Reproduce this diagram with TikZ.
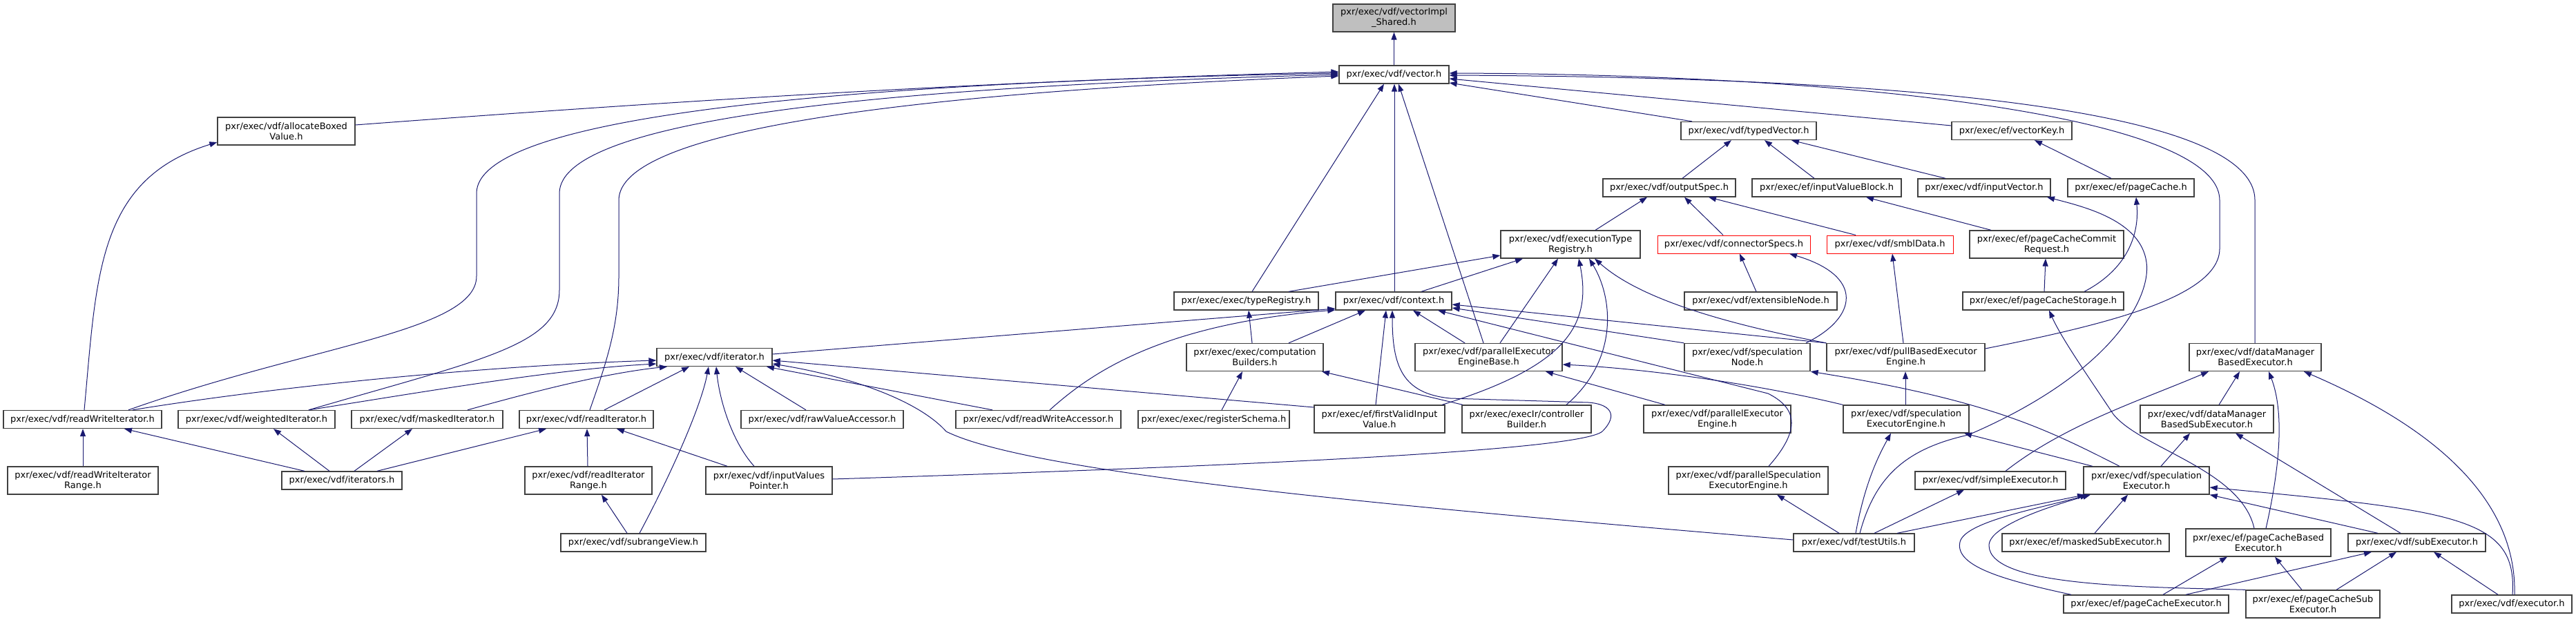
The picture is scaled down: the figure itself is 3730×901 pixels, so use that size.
\documentclass[tikz,border=0pt]{standalone}
\usepackage{fontspec}
\setmainfont{DejaVu Sans}
\usetikzlibrary{arrows.meta}
\definecolor{edgec}{HTML}{191970}
\definecolor{boxc}{HTML}{404040}
\begin{document}
\begin{tikzpicture}[x=1pt,y=-1pt,
  box/.style={draw=boxc,line width=1.3pt,fill=white,inner sep=0pt,align=center,font=\fontsize{13}{15}\selectfont},
  redbox/.style={box,draw=red,line width=1pt},
  rootbox/.style={box,fill=black!25},
  sz/.style 2 args={minimum width=#1pt,minimum height=#2pt},
  e/.style={draw=edgec,line width=1pt,-{Triangle[length=11pt,width=8pt]}}
]
\useasboundingbox (0,0) rectangle (3730,901);
% nodes
\node[rootbox,sz={177}{40}] (vis) at (2018.5,26) {pxr/exec/vdf/vectorImpl\\\_Shared.h};
\node[box,sz={159}{26}] (vec) at (2018.5,108) {pxr/exec/vdf/vector.h};
\node[box,sz={199}{40}] (abv) at (414.5,190) {pxr/exec/vdf/allocateBoxed\\Value.h};
\node[box,sz={196}{26}] (tv) at (2532,189.5) {pxr/exec/vdf/typedVector.h};
\node[box,sz={174}{26}] (vk) at (2913,189.5) {pxr/exec/ef/vectorKey.h};
\node[box,sz={192}{26}] (os) at (2417,272) {pxr/exec/vdf/outputSpec.h};
\node[box,sz={216}{26}] (ivb) at (2645,272) {pxr/exec/ef/inputValueBlock.h};
\node[box,sz={192}{26}] (iv) at (2873,272) {pxr/exec/vdf/inputVector.h};
\node[box,sz={183}{26}] (pc) at (3085.5,272) {pxr/exec/ef/pageCache.h};
\node[box,sz={202}{40}] (etr) at (2274,354) {pxr/exec/vdf/executionType\\Registry.h};
\node[redbox,sz={221}{26}] (cs) at (2510.5,354) {pxr/exec/vdf/connectorSpecs.h};
\node[redbox,sz={183}{26}] (sd) at (2736.5,354) {pxr/exec/vdf/smblData.h};
\node[box,sz={223}{40}] (pccr) at (2963.5,354) {pxr/exec/ef/pageCacheCommit\\Request.h};
\node[box,sz={209}{26}] (tr) at (1804.5,436) {pxr/exec/exec/typeRegistry.h};
\node[box,sz={168}{26}] (ctx) at (2018,436) {pxr/exec/vdf/context.h};
\node[box,sz={221}{26}] (en) at (2549.5,436) {pxr/exec/vdf/extensibleNode.h};
\node[box,sz={233}{26}] (pcs) at (2958.5,436) {pxr/exec/ef/pageCacheStorage.h};
\node[box,sz={167}{26}] (it) at (1034.5,517.5) {pxr/exec/vdf/iterator.h};
\node[box,sz={198}{40}] (cb) at (1817,517.5) {pxr/exec/exec/computation\\Builders.h};
\node[box,sz={213}{40}] (peeb) at (2155.5,517.5) {pxr/exec/vdf/parallelExecutor\\EngineBase.h};
\node[box,sz={182}{40}] (sn) at (2530,517.5) {pxr/exec/vdf/speculation\\Node.h};
\node[box,sz={229}{40}] (pbee) at (2759.5,517.5) {pxr/exec/vdf/pullBasedExecutor\\Engine.h};
\node[box,sz={191}{40}] (dmbe) at (3265.5,517.5) {pxr/exec/vdf/dataManager\\BasedExecutor.h};
\node[box,sz={229}{26}] (rwi) at (119.5,607.5) {pxr/exec/vdf/readWriteIterator.h};
\node[box,sz={227}{26}] (wi) at (371.5,607.5) {pxr/exec/vdf/weightedIterator.h};
\node[box,sz={219}{26}] (mi) at (618.5,607.5) {pxr/exec/vdf/maskedIterator.h};
\node[box,sz={194}{26}] (ri) at (849,607.5) {pxr/exec/vdf/readIterator.h};
\node[box,sz={235}{26}] (rva) at (1190.5,607.5) {pxr/exec/vdf/rawValueAccessor.h};
\node[box,sz={239}{26}] (rwa) at (1503.5,607.5) {pxr/exec/vdf/readWriteAccessor.h};
\node[box,sz={219}{26}] (rs) at (1757.5,607.5) {pxr/exec/exec/registerSchema.h};
\node[box,sz={189}{40}] (fviv) at (1997.5,607) {pxr/exec/ef/firstValidInput\\Value.h};
\node[box,sz={187}{40}] (ctb) at (2210.5,607) {pxr/exec/execIr/controller\\Builder.h};
\node[box,sz={213}{40}] (pee) at (2486.5,607) {pxr/exec/vdf/parallelExecutor\\Engine.h};
\node[box,sz={182}{40}] (see) at (2760,607) {pxr/exec/vdf/speculation\\ExecutorEngine.h};
\node[box,sz={193}{40}] (dmbse) at (3195.5,607) {pxr/exec/vdf/dataManager\\BasedSubExecutor.h};
\node[box,sz={218}{40}] (rwir) at (120,696) {pxr/exec/vdf/readWriteIterator\\Range.h};
\node[box,sz={174}{26}] (its) at (495,696) {pxr/exec/vdf/iterators.h};
\node[box,sz={184}{40}] (rir) at (852,696) {pxr/exec/vdf/readIterator\\Range.h};
\node[box,sz={183}{40}] (ivp) at (1113.5,696) {pxr/exec/vdf/inputValues\\Pointer.h};
\node[box,sz={231}{40}] (psee) at (2531.5,696) {pxr/exec/vdf/parallelSpeculation\\ExecutorEngine.h};
\node[box,sz={218}{26}] (se) at (2882,696) {pxr/exec/vdf/simpleExecutor.h};
\node[box,sz={182}{40}] (spe) at (3108,696) {pxr/exec/vdf/speculation\\Executor.h};
\node[box,sz={210}{26}] (sv) at (917,786) {pxr/exec/vdf/subrangeView.h};
\node[box,sz={175}{26}] (tu) at (2684.5,786) {pxr/exec/vdf/testUtils.h};
\node[box,sz={242}{26}] (mse) at (3020,786) {pxr/exec/ef/maskedSubExecutor.h};
\node[box,sz={210}{40}] (pcbe) at (3270,786) {pxr/exec/ef/pageCacheBased\\Executor.h};
\node[box,sz={199}{26}] (sub) at (3499.5,786) {pxr/exec/vdf/subExecutor.h};
\node[box,sz={239}{26}] (pce) at (3107.5,875) {pxr/exec/ef/pageCacheExecutor.h};
\node[box,sz={194}{40}] (pcse) at (3349,875) {pxr/exec/ef/pageCacheSub\\Executor.h};
\node[box,sz={174}{26}] (ex) at (3637,875) {pxr/exec/vdf/executor.h};
% edges into vector.h and vectorImpl
\draw[e] (vec.north) -- (vis.south);
\draw[e] (abv.east |- 0,181) .. controls (900,152) and (1400,118) .. (vec.west |- 0,104);
\draw[e] (rwi.north -| 122,0) .. controls (140,400) and (140,260) .. (abv.west |- 0,206);
\draw[e] (rwi.north -| 186,0) .. controls (450,500) and (690,480) .. (690,400) -- (690,280) .. controls (690,170) and (1200,120) .. (vec.west |- 0,106);
\draw[e] (wi.north -| 447,0) .. controls (700,520) and (810,500) .. (810,420) -- (810,280) .. controls (810,170) and (1300,125) .. (vec.west |- 0,108);
\draw[e] (ri.north -| 854,0) .. controls (880,520) and (896,470) .. (896,400) -- (896,290) .. controls (896,190) and (1300,135) .. (vec.west |- 0,110);
\draw[e] (tr.north -| 1813,0) -- (vec.south -| 2004,0);
\draw[e] (ctx.north -| 2019,0) -- (vec.south -| 2019,0);
\draw[e] (peeb.north -| 2148,0) -- (vec.south -| 2025,0);
\draw[e] (tv.north -| 2450,0) -- (vec.east |- 0,120);
\draw[e] (vk.west |- 0,182) -- (vec.east |- 0,114);
\draw[e] (dmbe.north -| 3265,0) -- (3265,290) .. controls (3265,150) and (2700,112) .. (vec.east |- 0,109);
\draw[e] (pbee.east |- 0,505) .. controls (3050,470) and (3214,430) .. (3214,360) -- (3214,290) .. controls (3214,170) and (2700,108) .. (vec.east |- 0,106);
% typedVector, vectorKey
\draw[e] (os.north -| 2436,0) -- (tv.south -| 2507,0);
\draw[e] (ivb.north -| 2627,0) -- (tv.south -| 2555,0);
\draw[e] (iv.north -| 2817,0) -- (tv.south -| 2594,0);
\draw[e] (pc.north -| 3057,0) -- (vk.south -| 2946,0);
% outputSpec, inputValueBlock, inputVector, pageCache
\draw[e] (etr.north -| 2310,0) -- (os.south -| 2385,0);
\draw[e] (cs.north -| 2495,0) -- (os.south -| 2439,0);
\draw[e] (sd.north -| 2687,0) -- (os.south -| 2474,0);
\draw[e] (pccr.north -| 2883,0) -- (ivb.south -| 2702,0);
\draw[e] (tu.north -| 2693,0) .. controls (2715,690) and (2760,650) .. (2850,630) .. controls (3060,540) and (3115,430) .. (3108,380) .. controls (3100,320) and (3020,300) .. (iv.south -| 2964,0);
\draw[e] (pcs.north -| 3018,0) .. controls (3080,390) and (3098,340) .. (pc.south -| 3093,0);
\draw[e] (pcs.north -| 2960,0) -- (pccr.south -| 2962,0);
\draw[e] (pcbe.north -| 3264,0) .. controls (3245,680) and (3100,650) .. (3060,600) .. controls (3020,540) and (2985,490) .. (pcs.south -| 2967,0);
% executionTypeRegistry
\draw[e] (tr.north -| 1866,0) -- (etr.west |- 0,370);
\draw[e] (ctx.north -| 2058,0) -- (etr.south -| 2205,0);
\draw[e] (peeb.north -| 2172,0) -- (etr.south -| 2256,0);
\draw[e] (fviv.north -| 2088,0) .. controls (2270,530) and (2305,470) .. (etr.south -| 2286,0);
\draw[e] (ctb.north -| 2268,0) .. controls (2345,520) and (2335,430) .. (etr.south -| 2301,0);
\draw[e] (pbee.north west) .. controls (2450,460) and (2360,420) .. (etr.south -| 2309,0);
% typeRegistry, context
\draw[e] (cb.north -| 1813,0) -- (tr.south -| 1808,0);
\draw[e] (it.east |- 0,513) -- (ctx.west |- 0,447);
\draw[e] (rwa.north -| 1520,0) .. controls (1580,540) and (1680,470) .. (ctx.west |- 0,449);
\draw[e] (cb.north -| 1866,0) -- (ctx.south -| 1977,0);
\draw[e] (fviv.north -| 1992,0) -- (ctx.south -| 2007,0);
\draw[e] (ivp.east |- 0,694) .. controls (1900,672) and (2290,650) .. (2320,625) .. controls (2345,600) and (2330,585) .. (2300,583) -- (2100,577) .. controls (2030,570) and (2016,530) .. (ctx.south -| 2016,0);
\draw[e] (peeb.north -| 2121,0) -- (ctx.south -| 2046,0);
\draw[e] (sn.north west) -- (ctx.east |- 0,446);
\draw[e] (pbee.north west) -- (ctx.east |- 0,441);
\draw[e] (psee.north -| 2561,0) .. controls (2610,620) and (2600,590) .. (2560,570) -- (ctx.south -| 2082,0);
\draw[e] (see.north west) .. controls (2560,560) and (2400,535) .. (peeb.east |- 0,528);
% iterator
\draw[e] (rwi.north -| 192,0) .. controls (400,560) and (700,530) .. (it.west |- 0,522);
\draw[e] (wi.north -| 447,0) .. controls (600,570) and (800,535) .. (it.west |- 0,527);
\draw[e] (mi.north -| 677,0) .. controls (780,565) and (880,540) .. (it.south -| 966,0);
\draw[e] (ri.north -| 875,0) -- (it.south -| 998,0);
\draw[e] (sv.north -| 926,0) .. controls (970,690) and (1015,590) .. (it.south -| 1026,0);
\draw[e] (ivp.north -| 1092,0) .. controls (1060,640) and (1042,580) .. (it.south -| 1037,0);
\draw[e] (rva.north -| 1167,0) -- (it.south -| 1065,0);
\draw[e] (rwa.north -| 1437,0) -- (it.south -| 1110,0);
\draw[e] (fviv.west |- 0,590) -- (it.east |- 0,522);
\draw[e] (tu.west |- 0,782) .. controls (2100,740) and (1500,690) .. (1370,625) .. controls (1330,580) and (1230,545) .. (it.east |- 0,527);
% iterators and ranges
\draw[e] (its.north -| 441,0) -- (rwi.south -| 180,0);
\draw[e] (its.north -| 477,0) -- (wi.south -| 396,0);
\draw[e] (its.north -| 513,0) -- (mi.south -| 597,0);
\draw[e] (its.north -| 546,0) -- (ri.south -| 791,0);
\draw[e] (rwir.north -| 120,0) -- (rwi.south -| 120,0);
\draw[e] (rir.north -| 851,0) -- (ri.south -| 850,0);
\draw[e] (sv.north -| 908,0) -- (rir.south -| 871,0);
\draw[e] (ivp.north -| 1053,0) -- (ri.south -| 893,0);
% computation builders etc
\draw[e] (rs.north -| 1769,0) -- (cb.south -| 1799,0);
\draw[e] (ctb.north -| 2118,0) -- (cb.south -| 1914,0);
\draw[e] (pee.north -| 2411,0) -- (peeb.south -| 2238,0);
\draw[e] (sn.north -| 2615,0) .. controls (2690,460) and (2700,400) .. (cs.south -| 2591,0);
\draw[e] (en.north -| 2543,0) -- (cs.south -| 2519,0);
\draw[e] (pbee.north -| 2756,0) -- (sd.south -| 2740,0);
\draw[e] (see.north -| 2759,0) -- (pbee.south -| 2759,0);
\draw[e] (spe.north -| 3069,0) .. controls (2960,620) and (2880,580) .. (sn.south east);
% speculation executor engine, testUtils
\draw[e] (tu.north -| 2687,0) .. controls (2700,700) and (2720,660) .. (see.south -| 2738,0);
\draw[e] (spe.north -| 3030,0) -- (see.south -| 2844,0);
\draw[e] (tu.north -| 2663,0) -- (psee.south -| 2573,0);
\draw[e] (tu.north -| 2714,0) -- (se.south -| 2844,0);
\draw[e] (tu.north -| 2747,0) -- (spe.south -| 3019,0);
% dataManager
\draw[e] (se.north -| 2904,0) .. controls (2990,615) and (3100,580) .. (dmbe.south -| 3198,0);
\draw[e] (dmbse.north -| 3213,0) -- (dmbe.south -| 3243,0);
\draw[e] (pcbe.north -| 3281,0) .. controls (3305,660) and (3305,590) .. (dmbe.south -| 3285,0);
\draw[e] (ex.north -| 3641,0) .. controls (3645,700) and (3480,600) .. (dmbe.south -| 3336,0);
\draw[e] (spe.north -| 3129,0) -- (dmbse.south -| 3171,0);
\draw[e] (sub.north -| 3476,0) -- (dmbse.south -| 3237,0);
% speculationExecutor
\draw[e] (sub.north -| 3443,0) -- (spe.south east);
\draw[e] (pce.north -| 2999,0) .. controls (2900,840) and (2830,820) .. (2838,785) .. controls (2845,755) and (2960,735) .. (spe.south -| 3023,0);
\draw[e] (pcse.north west) .. controls (3100,850) and (2880,850) .. (2880,790) .. controls (2880,760) and (2980,730) .. (spe.south -| 3027,0);
\draw[e] (mse.north -| 3033,0) -- (spe.south -| 3081,0);
\draw[e] (ex.north -| 3638,0) .. controls (3645,750) and (3560,740) .. (spe.east |- 0,706);
% pageCache executors
\draw[e] (pce.north -| 3132,0) -- (pcbe.south -| 3225,0);
\draw[e] (pcse.north -| 3333,0) -- (pcbe.south -| 3294,0);
\draw[e] (pce.north -| 3165,0) -- (sub.south -| 3434,0);
\draw[e] (pcse.north -| 3383,0) -- (sub.south -| 3470,0);
\draw[e] (ex.north -| 3617,0) -- (sub.south -| 3524,0);
\end{tikzpicture}
\end{document}
